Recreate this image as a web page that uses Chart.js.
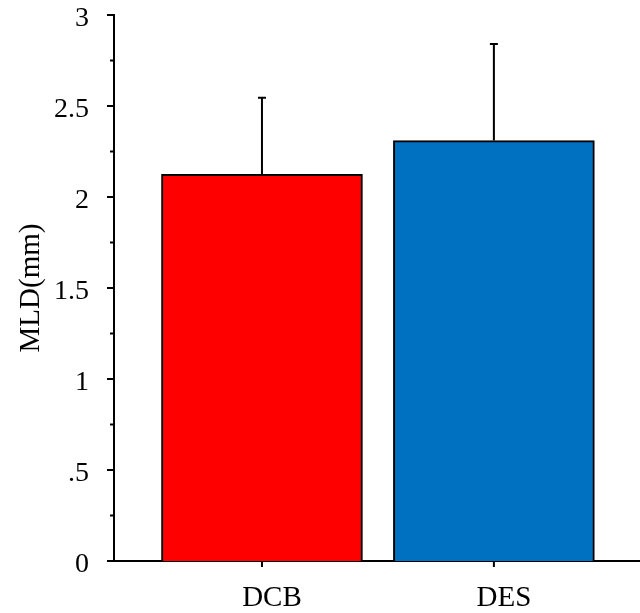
<!DOCTYPE html>
<html>
<head>
<meta charset="utf-8">
<script src="https://cdn.jsdelivr.net/npm/chart.js@4"></script>
<style>
  html, body { margin: 0; padding: 0; background: #fff; }
  #wrap { width: 640px; height: 613px; }
</style>
</head>
<body>
<div id="wrap"><canvas id="grafico"></canvas></div>
<script>
// dados
const categorias = ['DCB', 'DES'];
const medias = [2.125, 2.31];
const erros = [0.42, 0.53];
const coresBarras = ['#FF0000', '#0070C0'];
const yTicks = [0, 0.5, 1, 1.5, 2, 2.5, 3];
const yTickLabels = ['0', '.5', '1', '1.5', '2', '2.5', '3'];

const fonteSerif = "'Liberation Serif', 'Times New Roman', serif";

// barras de erro + marcas dos eixos
const pluginExtras = {
    id: 'extras',
    afterDatasetsDraw(chart) {
        const { ctx, chartArea } = chart;
        const sx = chart.scales.x, sy = chart.scales.y;
        ctx.save();
        ctx.strokeStyle = '#000';
        ctx.lineWidth = 2;

        // erros (só para cima)
        medias.forEach((m, i) => {
            const px = sx.getPixelForValue(i + 1);
            const yTop = sy.getPixelForValue(m);
            const yErr = sy.getPixelForValue(m + erros[i]);
            ctx.beginPath();
            ctx.moveTo(px, yTop);
            ctx.lineTo(px, yErr);
            ctx.moveTo(px - 4, yErr);
            ctx.lineTo(px + 4, yErr);
            ctx.stroke();
        });

        // ticks do eixo y (maiores e menores)
        const left = chartArea.left;
        yTicks.forEach((v, i) => {
            const py = sy.getPixelForValue(v);
            ctx.beginPath();
            ctx.moveTo(left - 7, py);
            ctx.lineTo(left, py);
            ctx.stroke();
            if (i < yTicks.length - 1) {
                const pm = sy.getPixelForValue((v + yTicks[i + 1]) / 2);
                ctx.beginPath();
                ctx.moveTo(left - 4, pm);
                ctx.lineTo(left, pm);
                ctx.stroke();
            }
        });

        // ticks do eixo x
        categorias.forEach((c, i) => {
            const px = sx.getPixelForValue(i + 1);
            ctx.beginPath();
            ctx.moveTo(px, chartArea.bottom);
            ctx.lineTo(px, chartArea.bottom + 6);
            ctx.stroke();
        });
        ctx.restore();
    }
};

new Chart(document.getElementById('grafico'), {
    type: 'bar',
    data: {
        datasets: [{
            data: categorias.map((c, i) => ({ x: i + 1, y: medias[i] })),
            backgroundColor: coresBarras,
            borderColor: '#000',
            borderWidth: 2,
            barThickness: 201
        }]
    },
    options: {
        responsive: true,
        maintainAspectRatio: false,
        animation: false,
        layout: { padding: { top: 15, right: 0, left: 0, bottom: 0 } },
        plugins: { legend: { display: false }, tooltip: { enabled: false } },
        scales: {
            x: {
                type: 'linear',
                offset: false,
                min: 0.362,
                max: 2.63,
                grid: { display: false, drawTicks: false, offset: false },
                border: { display: true, color: '#000', width: 2 },
                afterBuildTicks: s => { s.ticks = categorias.map((c, i) => ({ value: i + 1 })); },
                afterFit: s => { s.height = 52; s.paddingLeft = 0; s.paddingRight = 0; },
                ticks: {
                    autoSkip: false,
                    maxRotation: 0,
                    padding: 20,
                    labelOffset: 10,
                    color: '#000',
                    font: { family: fonteSerif, size: 29 },
                    callback: v => categorias[v - 1]
                }
            },
            y: {
                min: 0,
                max: 3,
                grid: { display: false, drawTicks: false },
                border: { display: true, color: '#000', width: 2 },
                afterBuildTicks: s => { s.ticks = yTicks.map(v => ({ value: v })); },
                afterFit: s => { s.width = 114; s.paddingTop = 0; s.paddingBottom = 0; },
                ticks: {
                    padding: 25,
                    labelOffset: 4,
                    color: '#000',
                    font: { family: fonteSerif, size: 28 },
                    callback: v => yTickLabels[yTicks.indexOf(v)]
                },
                title: {
                    display: true,
                    text: 'MLD(mm)',
                    color: '#000',
                    padding: 14,
                    font: { family: fonteSerif, size: 29 }
                }
            }
        }
    },
    plugins: [pluginExtras]
});
</script>
</body>
</html>
